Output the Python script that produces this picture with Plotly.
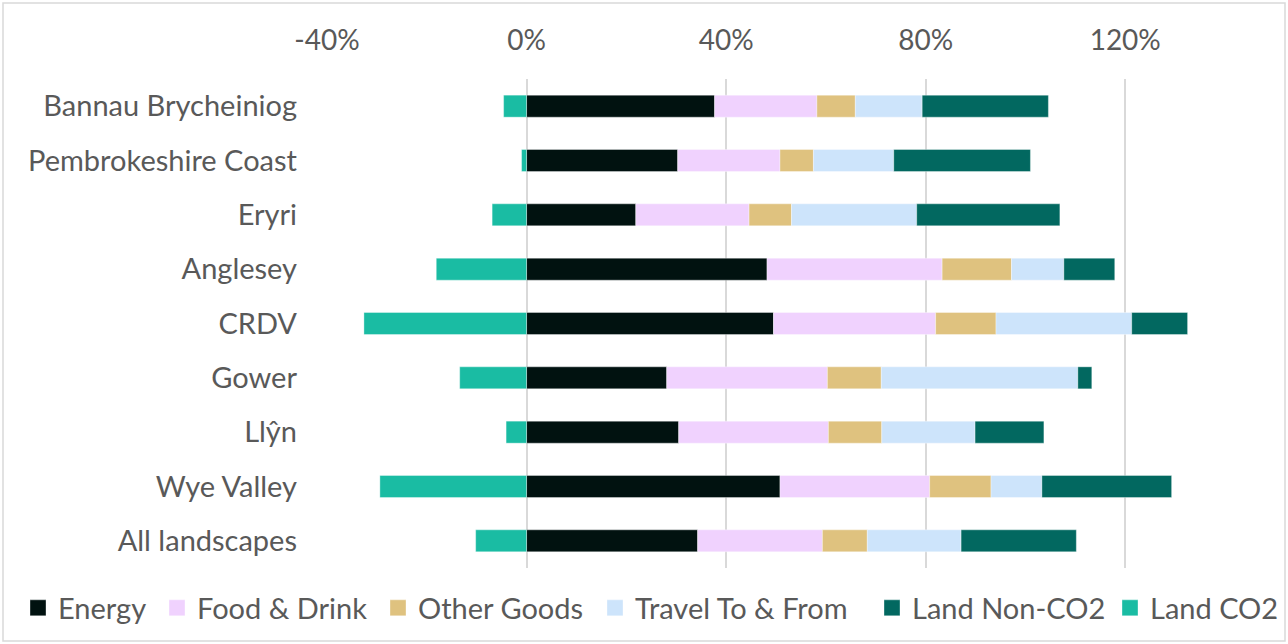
import plotly.graph_objects as go

categories = ["Bannau Brycheiniog", "Pembrokeshire Coast", "Eryri", "Anglesey", "CRDV",
              "Gower", "Llŷn", "Wye Valley", "All landscapes"]
energy = [37.7, 30.3, 21.9, 48.2, 49.5, 28.1, 30.5, 50.8, 34.3]
food_drink = [20.5, 20.5, 22.7, 35.1, 32.5, 32.2, 30.0, 30.0, 25.0]
other_goods = [7.7, 6.7, 8.5, 13.9, 12.1, 10.8, 10.7, 12.3, 9.0]
travel = [13.4, 16.1, 25.1, 10.5, 27.2, 39.4, 18.7, 10.2, 18.8]
land_non_co2 = [25.3, 27.4, 28.7, 10.2, 11.2, 2.8, 13.8, 26.0, 23.1]
land_co2 = [-4.6, -1.0, -6.9, -18.1, -32.6, -13.4, -4.1, -29.4, -10.2]

tick_vals = [-40, 0, 40, 80, 120]
tick_text = ["-40%", "0%", "40%", "80%", "120%"]

series = [
    ("Energy", energy, "#011210"),
    ("Food & Drink", food_drink, "#f0d2fe"),
    ("Other Goods", other_goods, "#dfc27f"),
    ("Travel To & From", travel, "#cde4fb"),
    ("Land Non-CO2", land_non_co2, "#026860"),
    ("Land CO2", land_co2, "#1abca3"),
]
# left edge of each legend entry's text (pixels) in the reference
legend_text_x = [60, 199, 420, 637, 914, 1152]

FONT = "Lato"
TXT = "#595959"
W, H = 1288, 644

fig = go.Figure()
legends = {}
for i, (name, vals, col) in enumerate(series):
    lg = "legend" if i == 0 else f"legend{i + 1}"
    fig.add_trace(go.Bar(
        y=categories, x=vals, name=name, orientation="h", showlegend=False,
        marker=dict(color=col, line=dict(width=0.6, color="rgba(255,255,255,0.6)")),
    ))
    # legend-only entry with a larger square swatch
    fig.add_trace(go.Scatter(
        x=[None], y=[None], mode="markers", name=name, legend=lg,
        marker=dict(symbol="square", size=18, color=col,
                    line=dict(width=0.6, color="rgba(255,255,255,0.6)")),
        hoverinfo="skip",
    ))
    legends[lg] = dict(
        orientation="h", xref="container", yref="container",
        x=(legend_text_x[i] - 42) / W, xanchor="left",
        y=1 - 608 / H, yanchor="middle",
        font=dict(family=FONT, size=29, color=TXT),
        bgcolor="rgba(0,0,0,0)", itemwidth=30,
    )

fig.update_layout(
    width=W, height=H,
    barmode="relative", bargap=0.595,
    paper_bgcolor="white", plot_bgcolor="white",
    margin=dict(l=327, r=63, t=79, b=76, autoexpand=False),
    font=dict(family=FONT, size=28, color=TXT),
    xaxis=dict(
        side="top", range=[-40, 140], tickvals=tick_vals, ticktext=tick_text,
        showgrid=True, gridcolor="#d9d9d9", gridwidth=1.5, zeroline=False,
        showline=False, ticks="", ticklabelstandoff=22,
        tickfont=dict(family=FONT, size=28, color=TXT),
    ),
    yaxis=dict(
        autorange="reversed", showgrid=False, zeroline=False, showline=False,
        ticks="", ticklabelstandoff=29,
        tickfont=dict(family=FONT, size=29, color=TXT),
    ),
    showlegend=True,
    **legends,
)

# chart frame
fig.add_shape(type="rect", xref="paper", yref="paper",
              x0=(3 - 327) / 898, x1=(1285 - 327) / 898,
              y0=(568 - 641) / 489, y1=(568 - 3) / 489,
              line=dict(color="#d9d9d9", width=1.5), fillcolor="rgba(0,0,0,0)", layer="below")

fig.write_html("out.html", config={"displayModeBar": False},
               post_script="document.body.style.margin='0';")
